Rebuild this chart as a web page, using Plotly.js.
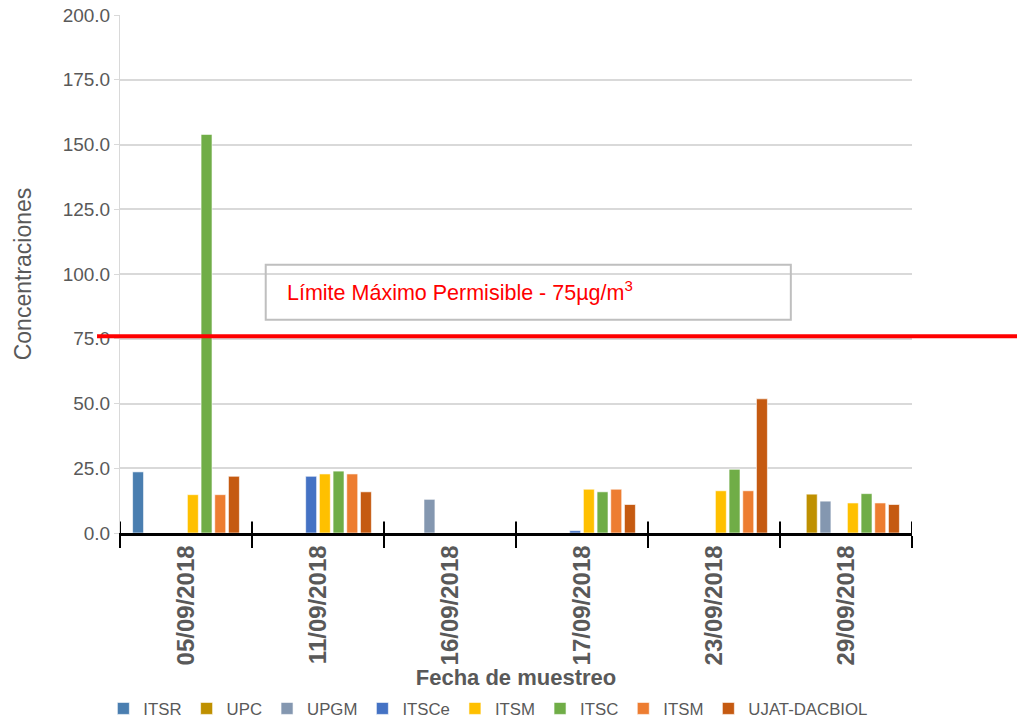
<!DOCTYPE html>
<html>
<head>
<meta charset="utf-8">
<script src="https://cdn.plot.ly/plotly-3.0.1.min.js"></script>
<style>html,body{margin:0;padding:0;background:#fff;}#chart{width:1017px;height:725px;}</style>
</head>
<body>
<div id="chart"></div>
<script>
const categories = ["05/09/2018", "11/09/2018", "16/09/2018", "17/09/2018", "23/09/2018", "29/09/2018"];
const seriesNames = ["ITSR", "UPC", "UPGM", "ITSCe", "ITSM", "ITSC", "ITSM", "UJAT-DACBIOL"];
const ITSR  = [23.6, null, null, null, null, null];
const UPC   = [null, null, null, null, null, 15.0];
const UPGM  = [null, null, 13.0, null, null, 12.3];
const ITSCe = [null, 21.9, null, 0.9, null, null];
const ITSM_a = [14.8, 22.8, null, 16.9, 16.3, 11.6];
const ITSC  = [153.9, 23.9, null, 15.9, 24.6, 15.2];
const ITSM_b = [14.8, 22.8, null, 16.9, 16.3, 11.6];
const UJAT  = [21.9, 15.9, null, 11.0, 51.8, 11.0];
const limitValue = 76;
const limitLabel = "Límite Máximo Permisible - 75µg/m<sup>3</sup>";
const yTicks = [0, 25, 50, 75, 100, 125, 150, 175, 200];

const seriesValues = [ITSR, UPC, UPGM, ITSCe, ITSM_a, ITSC, ITSM_b, UJAT];
const colors = ["#4a7eb0", "#bf9000", "#8497b0", "#4472c4", "#ffc000", "#70ad47", "#ed7d31", "#c55a11"];

const font = "Liberation Sans, Arial, sans-serif";
const gray = "#595959";

const traces = seriesNames.map((n, i) => ({
  type: "bar", name: n, x: categories, y: seriesValues[i],
  marker: {color: colors[i], line: {color: "rgba(255,255,255,0.6)", width: 1}},
  hoverinfo: "x+y+name"
}));

const layout = {
  width: 1017, height: 725,
  margin: {l: 120, r: 105, t: 15, b: 192, autoexpand: false},
  paper_bgcolor: "#fff", plot_bgcolor: "#fff",
  barmode: "group", bargap: 0.17, bargroupgap: 0.2,
  font: {family: font, color: gray},
  showlegend: true,
  legend: {orientation: "h", x: -0.021, xanchor: "left", y: -0.305, yanchor: "top",
           font: {size: 16.8, color: gray}, itemwidth: 30, tracegroupgap: 0, traceorder: "normal"},
  xaxis: {
    type: "category", tickson: "boundaries", ticks: "outside", ticklen: 12, tickwidth: 2, tickcolor: "#000",
    showline: true, linecolor: "#000", linewidth: 2.5, showgrid: false,
    tickangle: -90, tickfont: {size: 24, color: gray, family: font, weight: "bold"},
    title: {text: "<b>Fecha de muestreo</b>", font: {size: 22, color: gray}, standoff: 5},
    automargin: false, fixedrange: true
  },
  yaxis: {
    range: [0, 200], tickvals: yTicks, ticktext: yTicks.map(v => v.toFixed(1)),
    showgrid: true, gridcolor: "#d9d9d9", gridwidth: 2, zeroline: false,
    showline: true, linecolor: "#d9d9d9", linewidth: 1,
    ticks: "outside", ticklen: 5, tickwidth: 1, tickcolor: "#d9d9d9", tickfont: {size: 19, color: gray},
    title: {text: "Concentraciones", font: {size: 23, color: gray}, standoff: 24},
    automargin: false, fixedrange: true
  },
  shapes: [
    {type: "line", xref: "paper", yref: "y", x0: -0.029, x1: 1.14, y0: limitValue, y1: limitValue,
     line: {color: "#ff0000", width: 4}},
    {type: "rect", xref: "paper", yref: "y", x0: 0.184, x1: 0.847, y0: 82.3, y1: 103.6,
     line: {color: "#bfbfbf", width: 2}, fillcolor: "rgba(255,255,255,0)"}
  ],
  annotations: [
    {xref: "paper", yref: "y", x: 0.208, y: 93.5, xanchor: "left", yanchor: "middle", showarrow: false,
     text: limitLabel, font: {size: 21.5, color: "#ff0000", family: font}}
  ]
};

Plotly.newPlot("chart", traces, layout, {displayModeBar: false}).then(gd => {
  // crossing tick marks: inner half of each category-boundary tick
  const extra = [];
  for (let i = 0; i <= categories.length; i++) {
    const xv = i - 0.5;
    extra.push({type: "line", xref: "x", yref: "paper", x0: xv, x1: xv, y0: 0, y1: 0.022,
                line: {color: "#000", width: 2}});
  }
  Plotly.relayout(gd, {shapes: layout.shapes.concat(extra)});
});
</script>
</body>
</html>
